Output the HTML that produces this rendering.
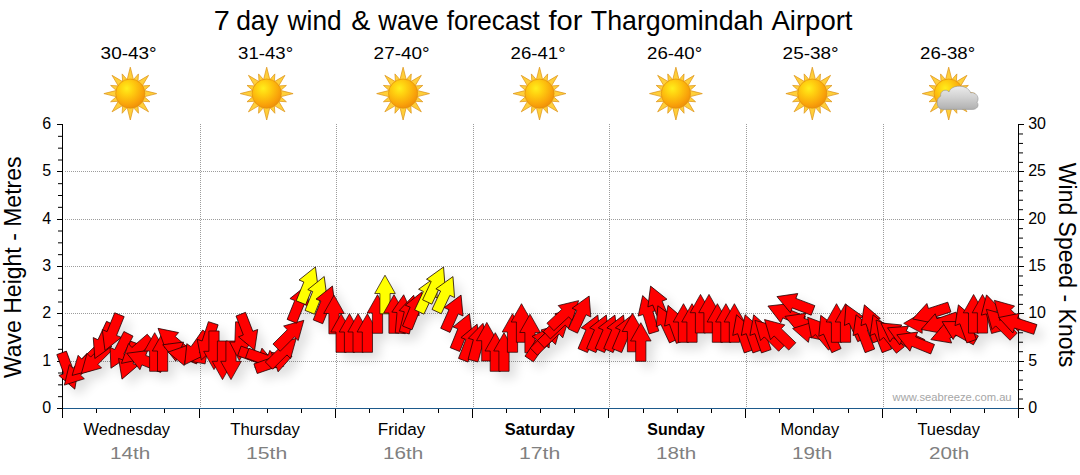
<!DOCTYPE html>
<html><head><meta charset="utf-8"><title>7 day wind &amp; wave forecast</title>
<style>html,body{margin:0;padding:0;background:#fff;}body{width:1080px;height:475px;overflow:hidden;}svg{display:block;}text{font-family:"Liberation Sans",sans-serif;}</style>
</head><body>
<svg width="1080" height="475" viewBox="0 0 1080 475">
<defs>
<radialGradient id="sg" cx="0.38" cy="0.32" r="0.75">
<stop offset="0" stop-color="#ffee1c"/><stop offset="0.3" stop-color="#ffd010"/><stop offset="0.75" stop-color="#f9a20a"/><stop offset="1" stop-color="#ec8a08"/>
</radialGradient>
<linearGradient id="cg" x1="0" y1="0" x2="0" y2="1"><stop offset="0" stop-color="#ececec"/><stop offset="0.5" stop-color="#d0d0d0"/><stop offset="1" stop-color="#b0b0b0"/></linearGradient>
<filter id="sh" x="-5%" y="-30%" width="110%" height="170%"><feGaussianBlur in="SourceAlpha" stdDeviation="5.2"/><feOffset dx="7" dy="7" result="o"/><feComponentTransfer><feFuncA type="linear" slope="0.13"/></feComponentTransfer></filter>
<g id="sun">
<g fill="#ffcf3a" stroke="#dd961c" stroke-width="0.75" stroke-linejoin="round">
<path d="M3.50,-12.50 L0.00,-26.40 L-3.50,-12.50 Z"/>
<path d="M7.56,-10.40 L8.15,-19.68 L2.01,-12.70 Z"/>
<path d="M11.24,-6.43 L18.24,-18.24 L6.43,-11.24 Z"/>
<path d="M12.70,-2.01 L19.68,-8.15 L10.40,-7.56 Z"/>
<path d="M12.50,3.50 L26.40,-0.00 L12.50,-3.50 Z"/>
<path d="M10.40,7.56 L19.68,8.15 L12.70,2.01 Z"/>
<path d="M6.43,11.24 L18.24,18.24 L11.24,6.43 Z"/>
<path d="M2.01,12.70 L8.15,19.68 L7.56,10.40 Z"/>
<path d="M-3.50,12.50 L0.00,26.40 L3.50,12.50 Z"/>
<path d="M-7.56,10.40 L-8.15,19.68 L-2.01,12.70 Z"/>
<path d="M-11.24,6.43 L-18.24,18.24 L-6.43,11.24 Z"/>
<path d="M-12.70,2.01 L-19.68,8.15 L-10.40,7.56 Z"/>
<path d="M-12.50,-3.50 L-26.40,0.00 L-12.50,3.50 Z"/>
<path d="M-10.40,-7.56 L-19.68,-8.15 L-12.70,-2.01 Z"/>
<path d="M-6.43,-11.24 L-18.24,-18.24 L-11.24,-6.43 Z"/>
<path d="M-2.01,-12.70 L-8.15,-19.68 L-7.56,-10.40 Z"/>
</g>
<circle cx="0" cy="0" r="14.6" fill="url(#sg)" stroke="#e3900e" stroke-width="0.7"/>
</g>
<path id="ar" d="M0,-19.30 L10.30,-1.00 L5.10,-1.00 L5.10,19.30 L-5.10,19.30 L-5.10,-1.00 L-10.30,-1.00 Z"/>
</defs>
<rect width="1080" height="475" fill="#fff"/>
<text x="213.7" y="29.8" font-size="27.4" fill="#000" textLength="16.06" lengthAdjust="spacingAndGlyphs">7</text>
<text x="236.2" y="29.8" font-size="27.4" fill="#000" textLength="42.54" lengthAdjust="spacingAndGlyphs">day</text>
<text x="287.6" y="29.8" font-size="27.4" fill="#000" textLength="54.03" lengthAdjust="spacingAndGlyphs">wind</text>
<text x="351.3" y="29.8" font-size="27.4" fill="#000" textLength="19.03" lengthAdjust="spacingAndGlyphs">&amp;</text>
<text x="378.2" y="29.8" font-size="27.4" fill="#000" textLength="60.52" lengthAdjust="spacingAndGlyphs">wave</text>
<text x="446.8" y="29.8" font-size="27.4" fill="#000" textLength="93.01" lengthAdjust="spacingAndGlyphs">forecast</text>
<text x="548.4" y="29.8" font-size="27.4" fill="#000" textLength="34.01" lengthAdjust="spacingAndGlyphs">for</text>
<text x="590.8" y="29.8" font-size="27.4" fill="#000" textLength="172.52" lengthAdjust="spacingAndGlyphs">Thargomindah</text>
<text x="771.5" y="29.8" font-size="27.4" fill="#000" textLength="81.0" lengthAdjust="spacingAndGlyphs">Airport</text>
<text x="100.6" y="58.8" font-size="16.2" fill="#000" textLength="56.08" lengthAdjust="spacingAndGlyphs">30-43°</text>
<use href="#sun" x="130.3" y="93.6"/>
<text x="238.1" y="58.8" font-size="16.2" fill="#000" textLength="55.05" lengthAdjust="spacingAndGlyphs">31-43°</text>
<use href="#sun" x="266.7" y="93.6"/>
<text x="373.6" y="58.8" font-size="16.2" fill="#000" textLength="56.08" lengthAdjust="spacingAndGlyphs">27-40°</text>
<use href="#sun" x="403.1" y="93.6"/>
<text x="510.6" y="58.8" font-size="16.2" fill="#000" textLength="55.05" lengthAdjust="spacingAndGlyphs">26-41°</text>
<use href="#sun" x="539.5" y="93.6"/>
<text x="647.1" y="58.8" font-size="16.2" fill="#000" textLength="55.07" lengthAdjust="spacingAndGlyphs">26-40°</text>
<use href="#sun" x="675.9" y="93.6"/>
<text x="782.6" y="58.8" font-size="16.2" fill="#000" textLength="56.08" lengthAdjust="spacingAndGlyphs">25-38°</text>
<use href="#sun" x="812.3" y="93.6"/>
<text x="920.1" y="58.8" font-size="16.2" fill="#000" textLength="55.05" lengthAdjust="spacingAndGlyphs">26-38°</text>
<use href="#sun" x="948.7" y="93.6"/>
<g transform="translate(948.7,93.6)"><path d="M-6,15.8 C-12.5,15.8 -13.5,5 -8,2.6 C-9,-3.2 -2.2,-5.2 0.3,-1.6 C2.5,-9.2 18.5,-9.8 22,-0.8 C27,-2 31.5,4 28.3,8.6 C31,12.2 28,15.8 24,15.8 Z" fill="url(#cg)" stroke="#949494" stroke-width="0.6"/></g>
<line x1="65" y1="361.5" x2="1018" y2="361.5" stroke="#9c9c9c" stroke-width="1" stroke-dasharray="1 1"/>
<line x1="65" y1="313.5" x2="1018" y2="313.5" stroke="#9c9c9c" stroke-width="1" stroke-dasharray="1 1"/>
<line x1="65" y1="266.5" x2="1018" y2="266.5" stroke="#9c9c9c" stroke-width="1" stroke-dasharray="1 1"/>
<line x1="65" y1="219.5" x2="1018" y2="219.5" stroke="#9c9c9c" stroke-width="1" stroke-dasharray="1 1"/>
<line x1="65" y1="171.5" x2="1018" y2="171.5" stroke="#9c9c9c" stroke-width="1" stroke-dasharray="1 1"/>
<line x1="200.5" y1="124" x2="200.5" y2="408" stroke="#9c9c9c" stroke-width="1" stroke-dasharray="1 1"/>
<line x1="336.5" y1="124" x2="336.5" y2="408" stroke="#9c9c9c" stroke-width="1" stroke-dasharray="1 1"/>
<line x1="473.5" y1="124" x2="473.5" y2="408" stroke="#9c9c9c" stroke-width="1" stroke-dasharray="1 1"/>
<line x1="609.5" y1="124" x2="609.5" y2="408" stroke="#9c9c9c" stroke-width="1" stroke-dasharray="1 1"/>
<line x1="746.5" y1="124" x2="746.5" y2="408" stroke="#9c9c9c" stroke-width="1" stroke-dasharray="1 1"/>
<line x1="883.5" y1="124" x2="883.5" y2="408" stroke="#9c9c9c" stroke-width="1" stroke-dasharray="1 1"/>
<text x="892.6" y="401.0" font-size="11" fill="#a6a6a6" textLength="119.01" lengthAdjust="spacingAndGlyphs">www.seabreeze.com.au</text>
<line x1="62.5" y1="124" x2="62.5" y2="409" stroke="#000" stroke-width="1"/>
<line x1="1018.5" y1="124" x2="1018.5" y2="409" stroke="#000" stroke-width="1"/>
<line x1="62" y1="408.5" x2="1019" y2="408.5" stroke="#1d5a8c" stroke-width="1.2"/>
<line x1="57" y1="408.5" x2="63" y2="408.5" stroke="#000" stroke-width="1"/>
<text x="51.2" y="413.1" font-size="16" text-anchor="end" fill="#000">0</text>
<line x1="58" y1="396.67" x2="63" y2="396.67" stroke="#000" stroke-width="1"/>
<line x1="58" y1="384.83" x2="63" y2="384.83" stroke="#000" stroke-width="1"/>
<line x1="58" y1="373.00" x2="63" y2="373.00" stroke="#000" stroke-width="1"/>
<line x1="57" y1="361.5" x2="63" y2="361.5" stroke="#000" stroke-width="1"/>
<text x="51.2" y="366.1" font-size="16" text-anchor="end" fill="#000">1</text>
<line x1="58" y1="349.33" x2="63" y2="349.33" stroke="#000" stroke-width="1"/>
<line x1="58" y1="337.50" x2="63" y2="337.50" stroke="#000" stroke-width="1"/>
<line x1="58" y1="325.67" x2="63" y2="325.67" stroke="#000" stroke-width="1"/>
<line x1="57" y1="313.5" x2="63" y2="313.5" stroke="#000" stroke-width="1"/>
<text x="51.2" y="318.1" font-size="16" text-anchor="end" fill="#000">2</text>
<line x1="58" y1="302.00" x2="63" y2="302.00" stroke="#000" stroke-width="1"/>
<line x1="58" y1="290.17" x2="63" y2="290.17" stroke="#000" stroke-width="1"/>
<line x1="58" y1="278.33" x2="63" y2="278.33" stroke="#000" stroke-width="1"/>
<line x1="57" y1="266.5" x2="63" y2="266.5" stroke="#000" stroke-width="1"/>
<text x="51.2" y="271.1" font-size="16" text-anchor="end" fill="#000">3</text>
<line x1="58" y1="254.67" x2="63" y2="254.67" stroke="#000" stroke-width="1"/>
<line x1="58" y1="242.83" x2="63" y2="242.83" stroke="#000" stroke-width="1"/>
<line x1="58" y1="231.00" x2="63" y2="231.00" stroke="#000" stroke-width="1"/>
<line x1="57" y1="219.5" x2="63" y2="219.5" stroke="#000" stroke-width="1"/>
<text x="51.2" y="224.1" font-size="16" text-anchor="end" fill="#000">4</text>
<line x1="58" y1="207.33" x2="63" y2="207.33" stroke="#000" stroke-width="1"/>
<line x1="58" y1="195.50" x2="63" y2="195.50" stroke="#000" stroke-width="1"/>
<line x1="58" y1="183.67" x2="63" y2="183.67" stroke="#000" stroke-width="1"/>
<line x1="57" y1="171.5" x2="63" y2="171.5" stroke="#000" stroke-width="1"/>
<text x="51.2" y="176.1" font-size="16" text-anchor="end" fill="#000">5</text>
<line x1="58" y1="160.00" x2="63" y2="160.00" stroke="#000" stroke-width="1"/>
<line x1="58" y1="148.17" x2="63" y2="148.17" stroke="#000" stroke-width="1"/>
<line x1="58" y1="136.33" x2="63" y2="136.33" stroke="#000" stroke-width="1"/>
<line x1="57" y1="124.5" x2="63" y2="124.5" stroke="#000" stroke-width="1"/>
<text x="51.2" y="129.1" font-size="16" text-anchor="end" fill="#000">6</text>
<line x1="1018" y1="408.5" x2="1024" y2="408.5" stroke="#000" stroke-width="1"/>
<text x="1028.2" y="413.1" font-size="16" fill="#000">0</text>
<line x1="1018" y1="399.03" x2="1023" y2="399.03" stroke="#000" stroke-width="1"/>
<line x1="1018" y1="389.57" x2="1023" y2="389.57" stroke="#000" stroke-width="1"/>
<line x1="1018" y1="380.10" x2="1023" y2="380.10" stroke="#000" stroke-width="1"/>
<line x1="1018" y1="370.63" x2="1023" y2="370.63" stroke="#000" stroke-width="1"/>
<line x1="1018" y1="361.5" x2="1024" y2="361.5" stroke="#000" stroke-width="1"/>
<text x="1028.2" y="366.1" font-size="16" fill="#000">5</text>
<line x1="1018" y1="351.70" x2="1023" y2="351.70" stroke="#000" stroke-width="1"/>
<line x1="1018" y1="342.23" x2="1023" y2="342.23" stroke="#000" stroke-width="1"/>
<line x1="1018" y1="332.77" x2="1023" y2="332.77" stroke="#000" stroke-width="1"/>
<line x1="1018" y1="323.30" x2="1023" y2="323.30" stroke="#000" stroke-width="1"/>
<line x1="1018" y1="313.5" x2="1024" y2="313.5" stroke="#000" stroke-width="1"/>
<text x="1028.2" y="318.1" font-size="16" fill="#000">10</text>
<line x1="1018" y1="304.37" x2="1023" y2="304.37" stroke="#000" stroke-width="1"/>
<line x1="1018" y1="294.90" x2="1023" y2="294.90" stroke="#000" stroke-width="1"/>
<line x1="1018" y1="285.43" x2="1023" y2="285.43" stroke="#000" stroke-width="1"/>
<line x1="1018" y1="275.97" x2="1023" y2="275.97" stroke="#000" stroke-width="1"/>
<line x1="1018" y1="266.5" x2="1024" y2="266.5" stroke="#000" stroke-width="1"/>
<text x="1028.2" y="271.1" font-size="16" fill="#000">15</text>
<line x1="1018" y1="257.03" x2="1023" y2="257.03" stroke="#000" stroke-width="1"/>
<line x1="1018" y1="247.57" x2="1023" y2="247.57" stroke="#000" stroke-width="1"/>
<line x1="1018" y1="238.10" x2="1023" y2="238.10" stroke="#000" stroke-width="1"/>
<line x1="1018" y1="228.63" x2="1023" y2="228.63" stroke="#000" stroke-width="1"/>
<line x1="1018" y1="219.5" x2="1024" y2="219.5" stroke="#000" stroke-width="1"/>
<text x="1028.2" y="224.1" font-size="16" fill="#000">20</text>
<line x1="1018" y1="209.70" x2="1023" y2="209.70" stroke="#000" stroke-width="1"/>
<line x1="1018" y1="200.23" x2="1023" y2="200.23" stroke="#000" stroke-width="1"/>
<line x1="1018" y1="190.77" x2="1023" y2="190.77" stroke="#000" stroke-width="1"/>
<line x1="1018" y1="181.30" x2="1023" y2="181.30" stroke="#000" stroke-width="1"/>
<line x1="1018" y1="171.5" x2="1024" y2="171.5" stroke="#000" stroke-width="1"/>
<text x="1028.2" y="176.1" font-size="16" fill="#000">25</text>
<line x1="1018" y1="162.37" x2="1023" y2="162.37" stroke="#000" stroke-width="1"/>
<line x1="1018" y1="152.90" x2="1023" y2="152.90" stroke="#000" stroke-width="1"/>
<line x1="1018" y1="143.43" x2="1023" y2="143.43" stroke="#000" stroke-width="1"/>
<line x1="1018" y1="133.97" x2="1023" y2="133.97" stroke="#000" stroke-width="1"/>
<line x1="1018" y1="124.5" x2="1024" y2="124.5" stroke="#000" stroke-width="1"/>
<text x="1028.2" y="129.1" font-size="16" fill="#000">30</text>
<line x1="62.5" y1="409" x2="62.5" y2="418" stroke="#000" stroke-width="1"/>
<line x1="96.5" y1="409" x2="96.5" y2="413" stroke="#000" stroke-width="1"/>
<line x1="130.5" y1="409" x2="130.5" y2="413" stroke="#000" stroke-width="1"/>
<line x1="164.5" y1="409" x2="164.5" y2="413" stroke="#000" stroke-width="1"/>
<line x1="199.5" y1="409" x2="199.5" y2="418" stroke="#000" stroke-width="1"/>
<line x1="233.5" y1="409" x2="233.5" y2="413" stroke="#000" stroke-width="1"/>
<line x1="267.5" y1="409" x2="267.5" y2="413" stroke="#000" stroke-width="1"/>
<line x1="301.5" y1="409" x2="301.5" y2="413" stroke="#000" stroke-width="1"/>
<line x1="335.5" y1="409" x2="335.5" y2="418" stroke="#000" stroke-width="1"/>
<line x1="369.5" y1="409" x2="369.5" y2="413" stroke="#000" stroke-width="1"/>
<line x1="403.5" y1="409" x2="403.5" y2="413" stroke="#000" stroke-width="1"/>
<line x1="438.5" y1="409" x2="438.5" y2="413" stroke="#000" stroke-width="1"/>
<line x1="472.5" y1="409" x2="472.5" y2="418" stroke="#000" stroke-width="1"/>
<line x1="506.5" y1="409" x2="506.5" y2="413" stroke="#000" stroke-width="1"/>
<line x1="540.5" y1="409" x2="540.5" y2="413" stroke="#000" stroke-width="1"/>
<line x1="574.5" y1="409" x2="574.5" y2="413" stroke="#000" stroke-width="1"/>
<line x1="608.5" y1="409" x2="608.5" y2="418" stroke="#000" stroke-width="1"/>
<line x1="643.5" y1="409" x2="643.5" y2="413" stroke="#000" stroke-width="1"/>
<line x1="677.5" y1="409" x2="677.5" y2="413" stroke="#000" stroke-width="1"/>
<line x1="711.5" y1="409" x2="711.5" y2="413" stroke="#000" stroke-width="1"/>
<line x1="745.5" y1="409" x2="745.5" y2="418" stroke="#000" stroke-width="1"/>
<line x1="779.5" y1="409" x2="779.5" y2="413" stroke="#000" stroke-width="1"/>
<line x1="813.5" y1="409" x2="813.5" y2="413" stroke="#000" stroke-width="1"/>
<line x1="848.5" y1="409" x2="848.5" y2="413" stroke="#000" stroke-width="1"/>
<line x1="882.5" y1="409" x2="882.5" y2="418" stroke="#000" stroke-width="1"/>
<line x1="916.5" y1="409" x2="916.5" y2="413" stroke="#000" stroke-width="1"/>
<line x1="950.5" y1="409" x2="950.5" y2="413" stroke="#000" stroke-width="1"/>
<line x1="984.5" y1="409" x2="984.5" y2="413" stroke="#000" stroke-width="1"/>
<line x1="1018.5" y1="409" x2="1018.5" y2="418" stroke="#000" stroke-width="1"/>
<g filter="url(#sh)">
<use href="#ar" transform="translate(68.2,371.0) rotate(160)"/>
<use href="#ar" transform="translate(77.5,371.0) rotate(223)"/>
<use href="#ar" transform="translate(86.0,362.0) rotate(226)"/>
<use href="#ar" transform="translate(95.0,360.0) rotate(225)"/>
<use href="#ar" transform="translate(103.0,341.0) rotate(205)"/>
<use href="#ar" transform="translate(112.2,332.6) rotate(202)"/>
<use href="#ar" transform="translate(119.7,351.0) rotate(207)"/>
<use href="#ar" transform="translate(128.6,361.0) rotate(200)"/>
<use href="#ar" transform="translate(136.0,350.7) rotate(229)"/>
<use href="#ar" transform="translate(144.7,360.5) rotate(292)"/>
<use href="#ar" transform="translate(154.7,352.0) rotate(0)"/>
<use href="#ar" transform="translate(162.6,352.0) rotate(0)"/>
<use href="#ar" transform="translate(172.6,341.0) rotate(311)"/>
<use href="#ar" transform="translate(180.6,352.0) rotate(292)"/>
<use href="#ar" transform="translate(187.0,355.5) rotate(280)"/>
<use href="#ar" transform="translate(195.8,348.8) rotate(215)"/>
<use href="#ar" transform="translate(207.3,341.6) rotate(198)"/>
<use href="#ar" transform="translate(214.0,350.3) rotate(180)"/>
<use href="#ar" transform="translate(222.5,360.3) rotate(180)"/>
<use href="#ar" transform="translate(231.0,360.3) rotate(180)"/>
<use href="#ar" transform="translate(240.0,341.3) rotate(182)"/>
<use href="#ar" transform="translate(247.7,332.2) rotate(159)"/>
<use href="#ar" transform="translate(257.5,357.5) rotate(110)"/>
<use href="#ar" transform="translate(265.4,359.7) rotate(110)"/>
<use href="#ar" transform="translate(273.8,362.4) rotate(71)"/>
<use href="#ar" transform="translate(282.6,352.0) rotate(45)"/>
<use href="#ar" transform="translate(290.2,334.0) rotate(45)"/>
<use href="#ar" transform="translate(299.1,303.4) rotate(22)"/>
<use href="#ar" transform="translate(308.2,284.8) rotate(22)"/>
<use href="#ar" transform="translate(317.0,294.4) rotate(22)"/>
<use href="#ar" transform="translate(325.2,303.9) rotate(22)"/>
<use href="#ar" transform="translate(334.0,314.5) rotate(0)"/>
<use href="#ar" transform="translate(341.1,333.0) rotate(0)"/>
<use href="#ar" transform="translate(349.5,333.0) rotate(0)"/>
<use href="#ar" transform="translate(358.1,333.0) rotate(0)"/>
<use href="#ar" transform="translate(367.4,333.0) rotate(0)"/>
<use href="#ar" transform="translate(377.5,314.0) rotate(0)"/>
<use href="#ar" transform="translate(385.0,294.5) rotate(0)"/>
<use href="#ar" transform="translate(394.0,314.0) rotate(0)"/>
<use href="#ar" transform="translate(402.0,314.0) rotate(5)"/>
<use href="#ar" transform="translate(409.0,314.0) rotate(14)"/>
<use href="#ar" transform="translate(414.5,310.0) rotate(22)"/>
<use href="#ar" transform="translate(427.5,294.5) rotate(25)"/>
<use href="#ar" transform="translate(435.4,284.5) rotate(25)"/>
<use href="#ar" transform="translate(444.8,294.1) rotate(25)"/>
<use href="#ar" transform="translate(453.2,312.7) rotate(24)"/>
<use href="#ar" transform="translate(462.2,331.7) rotate(22)"/>
<use href="#ar" transform="translate(470.2,342.2) rotate(21)"/>
<use href="#ar" transform="translate(478.0,342.0) rotate(15)"/>
<use href="#ar" transform="translate(486.8,341.7) rotate(0)"/>
<use href="#ar" transform="translate(495.3,352.0) rotate(0)"/>
<use href="#ar" transform="translate(504.0,352.0) rotate(0)"/>
<use href="#ar" transform="translate(512.5,333.0) rotate(0)"/>
<use href="#ar" transform="translate(521.5,323.0) rotate(0)"/>
<use href="#ar" transform="translate(530.0,333.5) rotate(0)"/>
<use href="#ar" transform="translate(540.0,343.0) rotate(34)"/>
<use href="#ar" transform="translate(547.5,338.0) rotate(45)"/>
<use href="#ar" transform="translate(555.0,331.0) rotate(47)"/>
<use href="#ar" transform="translate(561.0,322.0) rotate(47)"/>
<use href="#ar" transform="translate(564.5,313.8) rotate(47)"/>
<use href="#ar" transform="translate(581.0,313.5) rotate(25)"/>
<use href="#ar" transform="translate(590.3,332.8) rotate(23)"/>
<use href="#ar" transform="translate(598.8,332.8) rotate(23)"/>
<use href="#ar" transform="translate(607.4,332.8) rotate(23)"/>
<use href="#ar" transform="translate(616.0,332.8) rotate(23)"/>
<use href="#ar" transform="translate(624.5,332.8) rotate(23)"/>
<use href="#ar" transform="translate(632.5,332.5) rotate(0)"/>
<use href="#ar" transform="translate(640.8,342.0) rotate(0)"/>
<use href="#ar" transform="translate(648.3,314.0) rotate(343)"/>
<use href="#ar" transform="translate(657.8,304.0) rotate(338)"/>
<use href="#ar" transform="translate(666.0,323.3) rotate(335)"/>
<use href="#ar" transform="translate(674.6,323.5) rotate(340)"/>
<use href="#ar" transform="translate(683.5,323.0) rotate(0)"/>
<use href="#ar" transform="translate(692.0,323.0) rotate(0)"/>
<use href="#ar" transform="translate(700.5,313.7) rotate(0)"/>
<use href="#ar" transform="translate(709.0,313.7) rotate(0)"/>
<use href="#ar" transform="translate(717.4,323.0) rotate(0)"/>
<use href="#ar" transform="translate(725.9,323.0) rotate(0)"/>
<use href="#ar" transform="translate(734.4,323.0) rotate(0)"/>
<use href="#ar" transform="translate(742.8,333.0) rotate(341)"/>
<use href="#ar" transform="translate(751.4,333.0) rotate(341)"/>
<use href="#ar" transform="translate(760.0,333.0) rotate(341)"/>
<use href="#ar" transform="translate(768.6,334.0) rotate(315)"/>
<use href="#ar" transform="translate(778.4,333.0) rotate(314)"/>
<use href="#ar" transform="translate(785.7,313.6) rotate(293)"/>
<use href="#ar" transform="translate(795.0,303.5) rotate(291)"/>
<use href="#ar" transform="translate(803.0,323.3) rotate(291)"/>
<use href="#ar" transform="translate(811.5,332.5) rotate(282)"/>
<use href="#ar" transform="translate(820.0,332.0) rotate(320)"/>
<use href="#ar" transform="translate(828.6,333.0) rotate(336)"/>
<use href="#ar" transform="translate(836.5,323.0) rotate(0)"/>
<use href="#ar" transform="translate(845.5,323.0) rotate(0)"/>
<use href="#ar" transform="translate(854.2,322.0) rotate(335)"/>
<use href="#ar" transform="translate(863.0,332.8) rotate(339)"/>
<use href="#ar" transform="translate(871.0,323.0) rotate(340)"/>
<use href="#ar" transform="translate(880.0,332.8) rotate(339)"/>
<use href="#ar" transform="translate(888.2,335.0) rotate(321)"/>
<use href="#ar" transform="translate(896.7,334.0) rotate(305)"/>
<use href="#ar" transform="translate(905.0,336.0) rotate(295)"/>
<use href="#ar" transform="translate(914.7,342.0) rotate(292)"/>
<use href="#ar" transform="translate(923.0,323.0) rotate(269)"/>
<use href="#ar" transform="translate(931.0,313.0) rotate(252)"/>
<use href="#ar" transform="translate(939.5,323.2) rotate(251)"/>
<use href="#ar" transform="translate(949.0,333.0) rotate(250)"/>
<use href="#ar" transform="translate(959.0,331.0) rotate(299)"/>
<use href="#ar" transform="translate(965.0,323.0) rotate(340)"/>
<use href="#ar" transform="translate(973.6,313.8) rotate(0)"/>
<use href="#ar" transform="translate(982.5,313.8) rotate(0)"/>
<use href="#ar" transform="translate(991.5,313.5) rotate(345)"/>
<use href="#ar" transform="translate(1000.0,323.0) rotate(315)"/>
<use href="#ar" transform="translate(1008.0,314.0) rotate(315)"/>
<use href="#ar" transform="translate(1017.0,323.5) rotate(288)"/>
</g>
<g stroke="#1a0000" stroke-width="0.7" stroke-linejoin="miter">
<use href="#ar" fill="#ff0000" transform="translate(68.2,371.0) rotate(160)"/>
<use href="#ar" fill="#ff0000" transform="translate(77.5,371.0) rotate(223)"/>
<use href="#ar" fill="#ff0000" transform="translate(86.0,362.0) rotate(226)"/>
<use href="#ar" fill="#ff0000" transform="translate(95.0,360.0) rotate(225)"/>
<use href="#ar" fill="#ff0000" transform="translate(103.0,341.0) rotate(205)"/>
<use href="#ar" fill="#ff0000" transform="translate(112.2,332.6) rotate(202)"/>
<use href="#ar" fill="#ff0000" transform="translate(119.7,351.0) rotate(207)"/>
<use href="#ar" fill="#ff0000" transform="translate(128.6,361.0) rotate(200)"/>
<use href="#ar" fill="#ff0000" transform="translate(136.0,350.7) rotate(229)"/>
<use href="#ar" fill="#ff0000" transform="translate(144.7,360.5) rotate(292)"/>
<use href="#ar" fill="#ff0000" transform="translate(154.7,352.0) rotate(0)"/>
<use href="#ar" fill="#ff0000" transform="translate(162.6,352.0) rotate(0)"/>
<use href="#ar" fill="#ff0000" transform="translate(172.6,341.0) rotate(311)"/>
<use href="#ar" fill="#ff0000" transform="translate(180.6,352.0) rotate(292)"/>
<use href="#ar" fill="#ff0000" transform="translate(187.0,355.5) rotate(280)"/>
<use href="#ar" fill="#ff0000" transform="translate(195.8,348.8) rotate(215)"/>
<use href="#ar" fill="#ff0000" transform="translate(207.3,341.6) rotate(198)"/>
<use href="#ar" fill="#ff0000" transform="translate(214.0,350.3) rotate(180)"/>
<use href="#ar" fill="#ff0000" transform="translate(222.5,360.3) rotate(180)"/>
<use href="#ar" fill="#ff0000" transform="translate(231.0,360.3) rotate(180)"/>
<use href="#ar" fill="#ff0000" transform="translate(240.0,341.3) rotate(182)"/>
<use href="#ar" fill="#ff0000" transform="translate(247.7,332.2) rotate(159)"/>
<use href="#ar" fill="#ff0000" transform="translate(257.5,357.5) rotate(110)"/>
<use href="#ar" fill="#ff0000" transform="translate(265.4,359.7) rotate(110)"/>
<use href="#ar" fill="#ff0000" transform="translate(273.8,362.4) rotate(71)"/>
<use href="#ar" fill="#ff0000" transform="translate(282.6,352.0) rotate(45)"/>
<use href="#ar" fill="#ff0000" transform="translate(290.2,334.0) rotate(45)"/>
<use href="#ar" fill="#ff0000" transform="translate(299.1,303.4) rotate(22)"/>
<use href="#ar" fill="#ffff00" transform="translate(308.2,284.8) rotate(22)"/>
<use href="#ar" fill="#ffff00" transform="translate(317.0,294.4) rotate(22)"/>
<use href="#ar" fill="#ff0000" transform="translate(325.2,303.9) rotate(22)"/>
<use href="#ar" fill="#ff0000" transform="translate(334.0,314.5) rotate(0)"/>
<use href="#ar" fill="#ff0000" transform="translate(341.1,333.0) rotate(0)"/>
<use href="#ar" fill="#ff0000" transform="translate(349.5,333.0) rotate(0)"/>
<use href="#ar" fill="#ff0000" transform="translate(358.1,333.0) rotate(0)"/>
<use href="#ar" fill="#ff0000" transform="translate(367.4,333.0) rotate(0)"/>
<use href="#ar" fill="#ff0000" transform="translate(377.5,314.0) rotate(0)"/>
<use href="#ar" fill="#ffff00" transform="translate(385.0,294.5) rotate(0)"/>
<use href="#ar" fill="#ff0000" transform="translate(394.0,314.0) rotate(0)"/>
<use href="#ar" fill="#ff0000" transform="translate(402.0,314.0) rotate(5)"/>
<use href="#ar" fill="#ff0000" transform="translate(409.0,314.0) rotate(14)"/>
<use href="#ar" fill="#ff0000" transform="translate(414.5,310.0) rotate(22)"/>
<use href="#ar" fill="#ffff00" transform="translate(427.5,294.5) rotate(25)"/>
<use href="#ar" fill="#ffff00" transform="translate(435.4,284.5) rotate(25)"/>
<use href="#ar" fill="#ffff00" transform="translate(444.8,294.1) rotate(25)"/>
<use href="#ar" fill="#ff0000" transform="translate(453.2,312.7) rotate(24)"/>
<use href="#ar" fill="#ff0000" transform="translate(462.2,331.7) rotate(22)"/>
<use href="#ar" fill="#ff0000" transform="translate(470.2,342.2) rotate(21)"/>
<use href="#ar" fill="#ff0000" transform="translate(478.0,342.0) rotate(15)"/>
<use href="#ar" fill="#ff0000" transform="translate(486.8,341.7) rotate(0)"/>
<use href="#ar" fill="#ff0000" transform="translate(495.3,352.0) rotate(0)"/>
<use href="#ar" fill="#ff0000" transform="translate(504.0,352.0) rotate(0)"/>
<use href="#ar" fill="#ff0000" transform="translate(512.5,333.0) rotate(0)"/>
<use href="#ar" fill="#ff0000" transform="translate(521.5,323.0) rotate(0)"/>
<use href="#ar" fill="#ff0000" transform="translate(530.0,333.5) rotate(0)"/>
<use href="#ar" fill="#ff0000" transform="translate(540.0,343.0) rotate(34)"/>
<use href="#ar" fill="#ff0000" transform="translate(547.5,338.0) rotate(45)"/>
<use href="#ar" fill="#ff0000" transform="translate(555.0,331.0) rotate(47)"/>
<use href="#ar" fill="#ff0000" transform="translate(561.0,322.0) rotate(47)"/>
<use href="#ar" fill="#ff0000" transform="translate(564.5,313.8) rotate(47)"/>
<use href="#ar" fill="#ff0000" transform="translate(581.0,313.5) rotate(25)"/>
<use href="#ar" fill="#ff0000" transform="translate(590.3,332.8) rotate(23)"/>
<use href="#ar" fill="#ff0000" transform="translate(598.8,332.8) rotate(23)"/>
<use href="#ar" fill="#ff0000" transform="translate(607.4,332.8) rotate(23)"/>
<use href="#ar" fill="#ff0000" transform="translate(616.0,332.8) rotate(23)"/>
<use href="#ar" fill="#ff0000" transform="translate(624.5,332.8) rotate(23)"/>
<use href="#ar" fill="#ff0000" transform="translate(632.5,332.5) rotate(0)"/>
<use href="#ar" fill="#ff0000" transform="translate(640.8,342.0) rotate(0)"/>
<use href="#ar" fill="#ff0000" transform="translate(648.3,314.0) rotate(343)"/>
<use href="#ar" fill="#ff0000" transform="translate(657.8,304.0) rotate(338)"/>
<use href="#ar" fill="#ff0000" transform="translate(666.0,323.3) rotate(335)"/>
<use href="#ar" fill="#ff0000" transform="translate(674.6,323.5) rotate(340)"/>
<use href="#ar" fill="#ff0000" transform="translate(683.5,323.0) rotate(0)"/>
<use href="#ar" fill="#ff0000" transform="translate(692.0,323.0) rotate(0)"/>
<use href="#ar" fill="#ff0000" transform="translate(700.5,313.7) rotate(0)"/>
<use href="#ar" fill="#ff0000" transform="translate(709.0,313.7) rotate(0)"/>
<use href="#ar" fill="#ff0000" transform="translate(717.4,323.0) rotate(0)"/>
<use href="#ar" fill="#ff0000" transform="translate(725.9,323.0) rotate(0)"/>
<use href="#ar" fill="#ff0000" transform="translate(734.4,323.0) rotate(0)"/>
<use href="#ar" fill="#ff0000" transform="translate(742.8,333.0) rotate(341)"/>
<use href="#ar" fill="#ff0000" transform="translate(751.4,333.0) rotate(341)"/>
<use href="#ar" fill="#ff0000" transform="translate(760.0,333.0) rotate(341)"/>
<use href="#ar" fill="#ff0000" transform="translate(768.6,334.0) rotate(315)"/>
<use href="#ar" fill="#ff0000" transform="translate(778.4,333.0) rotate(314)"/>
<use href="#ar" fill="#ff0000" transform="translate(785.7,313.6) rotate(293)"/>
<use href="#ar" fill="#ff0000" transform="translate(795.0,303.5) rotate(291)"/>
<use href="#ar" fill="#ff0000" transform="translate(803.0,323.3) rotate(291)"/>
<use href="#ar" fill="#ff0000" transform="translate(811.5,332.5) rotate(282)"/>
<use href="#ar" fill="#ff0000" transform="translate(820.0,332.0) rotate(320)"/>
<use href="#ar" fill="#ff0000" transform="translate(828.6,333.0) rotate(336)"/>
<use href="#ar" fill="#ff0000" transform="translate(836.5,323.0) rotate(0)"/>
<use href="#ar" fill="#ff0000" transform="translate(845.5,323.0) rotate(0)"/>
<use href="#ar" fill="#ff0000" transform="translate(854.2,322.0) rotate(335)"/>
<use href="#ar" fill="#ff0000" transform="translate(863.0,332.8) rotate(339)"/>
<use href="#ar" fill="#ff0000" transform="translate(871.0,323.0) rotate(340)"/>
<use href="#ar" fill="#ff0000" transform="translate(880.0,332.8) rotate(339)"/>
<use href="#ar" fill="#ff0000" transform="translate(888.2,335.0) rotate(321)"/>
<use href="#ar" fill="#ff0000" transform="translate(896.7,334.0) rotate(305)"/>
<use href="#ar" fill="#ff0000" transform="translate(905.0,336.0) rotate(295)"/>
<use href="#ar" fill="#ff0000" transform="translate(914.7,342.0) rotate(292)"/>
<use href="#ar" fill="#ff0000" transform="translate(923.0,323.0) rotate(269)"/>
<use href="#ar" fill="#ff0000" transform="translate(931.0,313.0) rotate(252)"/>
<use href="#ar" fill="#ff0000" transform="translate(939.5,323.2) rotate(251)"/>
<use href="#ar" fill="#ff0000" transform="translate(949.0,333.0) rotate(250)"/>
<use href="#ar" fill="#ff0000" transform="translate(959.0,331.0) rotate(299)"/>
<use href="#ar" fill="#ff0000" transform="translate(965.0,323.0) rotate(340)"/>
<use href="#ar" fill="#ff0000" transform="translate(973.6,313.8) rotate(0)"/>
<use href="#ar" fill="#ff0000" transform="translate(982.5,313.8) rotate(0)"/>
<use href="#ar" fill="#ff0000" transform="translate(991.5,313.5) rotate(345)"/>
<use href="#ar" fill="#ff0000" transform="translate(1000.0,323.0) rotate(315)"/>
<use href="#ar" fill="#ff0000" transform="translate(1008.0,314.0) rotate(315)"/>
<use href="#ar" fill="#ff0000" transform="translate(1017.0,323.5) rotate(288)"/>
</g>
<text x="83.5" y="434.6" font-size="16.3" fill="#000" textLength="86.51" lengthAdjust="spacingAndGlyphs">Wednesday</text>
<text x="110.0" y="458.7" font-size="17.4" fill="#808080" textLength="40.23" lengthAdjust="spacingAndGlyphs">14th</text>
<text x="230.3" y="434.6" font-size="16.3" fill="#000" textLength="69.51" lengthAdjust="spacingAndGlyphs">Thursday</text>
<text x="246.0" y="458.7" font-size="17.4" fill="#808080" textLength="41.2" lengthAdjust="spacingAndGlyphs">15th</text>
<text x="377.8" y="434.6" font-size="16.3" fill="#000" textLength="47.55" lengthAdjust="spacingAndGlyphs">Friday</text>
<text x="383.0" y="458.7" font-size="17.4" fill="#808080" textLength="40.2" lengthAdjust="spacingAndGlyphs">16th</text>
<text x="504.8" y="434.6" font-size="16.3" font-weight="bold" fill="#000" textLength="70.01" lengthAdjust="spacingAndGlyphs">Saturday</text>
<text x="519.0" y="458.7" font-size="17.4" fill="#808080" textLength="41.22" lengthAdjust="spacingAndGlyphs">17th</text>
<text x="647.3" y="434.6" font-size="16.3" font-weight="bold" fill="#000" textLength="57.51" lengthAdjust="spacingAndGlyphs">Sunday</text>
<text x="656.0" y="458.7" font-size="17.4" fill="#808080" textLength="40.11" lengthAdjust="spacingAndGlyphs">18th</text>
<text x="780.6" y="434.6" font-size="16.3" fill="#000" textLength="58.53" lengthAdjust="spacingAndGlyphs">Monday</text>
<text x="792.0" y="458.7" font-size="17.4" fill="#808080" textLength="40.23" lengthAdjust="spacingAndGlyphs">19th</text>
<text x="917.4" y="434.6" font-size="16.3" fill="#000" textLength="62.51" lengthAdjust="spacingAndGlyphs">Tuesday</text>
<text x="929.0" y="458.7" font-size="17.4" fill="#808080" textLength="40.14" lengthAdjust="spacingAndGlyphs">20th</text>
<text transform="translate(20.6,267.3) rotate(-90)" font-size="23" text-anchor="middle" fill="#000">Wave Height - Metres</text>
<text transform="translate(1059.3,265.1) rotate(90)" font-size="23" text-anchor="middle" fill="#000">Wind Speed - Knots</text>
</svg></body></html>
